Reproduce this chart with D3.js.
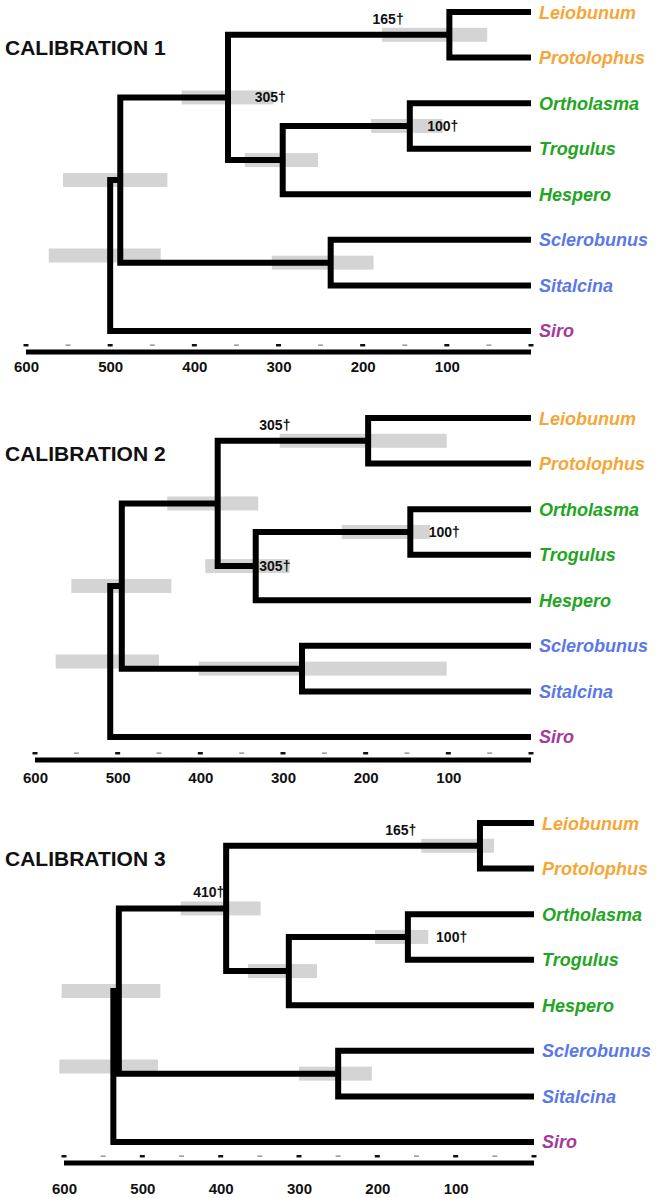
<!DOCTYPE html>
<html>
<head>
<meta charset="utf-8">
<script src="https://cdn.jsdelivr.net/npm/d3@7/dist/d3.min.js"></script>
<style>
  html, body { margin: 0; padding: 0; background: #fff; }
  svg { display: block; }
  text { font-family: "Liberation Sans", Arial, sans-serif; }
</style>
</head>
<body>
<svg id="chart" width="656" height="1198"></svg>
<script>
// ---------------- DATA ----------------
const tipNames  = ["Leiobunum", "Protolophus", "Ortholasma", "Trogulus", "Hespero", "Sclerobunus", "Sitalcina", "Siro"];
const tipGroups = ["orange", "orange", "green", "green", "green", "blue", "blue", "purple"];

const nodeIds      = ["LP", "OT", "C", "B", "SS", "A", "R"];
const nodeChildren = [
  ["Leiobunum", "Protolophus"],
  ["Ortholasma", "Trogulus"],
  ["OT", "Hespero"],
  ["LP", "C"],
  ["Sclerobunus", "Sitalcina"],
  ["B", "SS"],
  ["A", "Siro"]
];

const panelTitles = ["CALIBRATION 1", "CALIBRATION 2", "CALIBRATION 3"];

// node ages (Ma), in nodeIds order
const ages1 = [97, 144, 295, 360, 238, 488, 500];
const ages2 = [197, 146, 333, 379, 277, 495, 509];
const ages3 = [69, 161, 313, 393, 250, 530, 537];

// 95% HPD bars (Ma), in nodeIds order
const hpdLow1  = [52, 105, 253, 306, 187, 432, 440];
const hpdHigh1 = [177, 190, 340, 415, 308, 556, 573];
const hpdLow2  = [102, 122, 292, 330, 102, 435, 450];
const hpdHigh2 = [304, 229, 394, 440, 402, 556, 575];
const hpdLow3  = [51, 135, 277, 349, 207, 477, 480];
const hpdHigh3 = [144, 203, 365, 451, 300, 603, 606];

// fossil calibrations: node, label, value, placement
const calib1 = [["LP", "165†", 165, "above"], ["B", "305†", 305, "right"], ["OT", "100†", 100, "right"]];
const calib2 = [["LP", "305†", 305, "above"], ["C", "305†", 305, "right"], ["OT", "100†", 100, "right"]];
const calib3 = [["LP", "165†", 165, "above"], ["B", "410†", 410, "above"], ["OT", "100†", 100, "right"]];

const majorTicks = [600, 500, 400, 300, 200, 100, 0];
const minorTicks = [550, 450, 350, 250, 150, 50];
const tickLabels = ["600", "500", "400", "300", "200", "100"];

// ---------------- LAYOUT / STYLE ----------------
const groupColor = d3.scaleOrdinal()
  .domain(["orange", "green", "blue", "purple"])
  .range(["#f6a637", "#22a522", "#5b78e8", "#a5399d"]);

const panelData = [
  { title: panelTitles[0], ages: ages1, lo: hpdLow1, hi: hpdHigh1, calib: calib1 },
  { title: panelTitles[1], ages: ages2, lo: hpdLow2, hi: hpdHigh2, calib: calib2 },
  { title: panelTitles[2], ages: ages3, lo: hpdLow3, hi: hpdHigh3, calib: calib3 }
];
const panelLayout = [
  { top: 12,  x600: 26, x0: 531, axisGap: 21, labelGap: 20 },
  { top: 418, x600: 35, x0: 531, axisGap: 23, labelGap: 23 },
  { top: 823, x600: 64, x0: 534, axisGap: 21, labelGap: 31 }
];
const tipStep = 45.57;

const svg = d3.select("#chart");

panelData.forEach((pd, pi) => {
  const L = panelLayout[pi];
  const g = svg.append("g");

  const x = d3.scaleLinear().domain([600, 0]).range([L.x600, L.x0]);
  const yTip = d3.scalePoint().domain(tipNames).range([L.top, L.top + tipStep * (tipNames.length - 1)]);

  // compute node positions
  const pos = {};
  tipNames.forEach(n => { pos[n] = { x: x(0), y: yTip(n), age: 0 }; });
  nodeIds.forEach((id, i) => {
    const [c1, c2] = nodeChildren[i];
    pos[id] = { x: x(pd.ages[i]), y: (pos[c1].y + pos[c2].y) / 2, age: pd.ages[i] };
  });

  // title
  g.append("text")
    .attr("x", 5).attr("y", L.top + 43)
    .attr("font-size", 21).attr("font-weight", "bold")
    .attr("fill", "#111")
    .text(pd.title);

  // HPD bars
  g.selectAll("rect.hpd").data(nodeIds).join("rect")
    .attr("class", "hpd")
    .attr("x", (d, i) => x(pd.hi[i]))
    .attr("width", (d, i) => x(pd.lo[i]) - x(pd.hi[i]))
    .attr("y", d => pos[d].y - 7)
    .attr("height", 14)
    .attr("fill", "#d4d4d4");

  // branches (elbow per internal node)
  g.selectAll("path.branch").data(nodeIds).join("path")
    .attr("class", "branch")
    .attr("d", (d, i) => {
      const [c1, c2] = nodeChildren[i];
      const p = d3.path();
      p.moveTo(pos[c1].x, pos[c1].y);
      p.lineTo(pos[d].x, pos[c1].y);
      p.lineTo(pos[d].x, pos[c2].y);
      p.lineTo(pos[c2].x, pos[c2].y);
      return p.toString();
    })
    .attr("fill", "none")
    .attr("stroke", "#000")
    .attr("stroke-width", 6)
    .attr("stroke-linejoin", "miter")
    .attr("stroke-linecap", "butt");

  // tip labels
  g.selectAll("text.tip").data(tipNames).join("text")
    .attr("class", "tip")
    .attr("x", x(0) + 8)
    .attr("y", d => yTip(d) + 6.5)
    .attr("font-size", 18)
    .attr("font-weight", "bold")
    .attr("font-style", "italic")
    .attr("fill", (d, i) => groupColor(tipGroups[i]))
    .text(d => d);

  // calibration labels
  g.selectAll("text.cal").data(pd.calib).join("text")
    .attr("class", "cal")
    .attr("x", d => x(d[2]) - 4)
    .attr("y", d => d[3] === "above" ? pos[d[0]].y - 16 + 5 : pos[d[0]].y + 5)
    .attr("text-anchor", "middle")
    .attr("font-size", 14)
    .attr("font-weight", "bold")
    .attr("fill", "#111")
    .text(d => d[1]);

  // axis
  const axisY = L.top + tipStep * (tipNames.length - 1) + L.axisGap;
  g.append("line")
    .attr("x1", x(600)).attr("x2", x(0))
    .attr("y1", axisY).attr("y2", axisY)
    .attr("stroke", "#000").attr("stroke-width", 5);

  g.selectAll("rect.major").data(majorTicks).join("rect")
    .attr("class", "major")
    .attr("x", d => x(d) - 2.5).attr("width", 5)
    .attr("y", axisY - 8).attr("height", 2.5)
    .attr("fill", "#111");
  g.selectAll("rect.minor").data(minorTicks).join("rect")
    .attr("class", "minor")
    .attr("x", d => x(d) - 2.5).attr("width", 5)
    .attr("y", axisY - 7.5).attr("height", 1.3)
    .attr("fill", "#888");

  const axis = d3.axisBottom(x)
    .tickValues(tickLabels.map(Number))
    .tickFormat((d, i) => tickLabels[i])
    .tickSize(0)
    .tickPadding(0);
  const ag = g.append("g")
    .attr("transform", `translate(0,${axisY + L.labelGap - 11})`)
    .call(axis);
  ag.select(".domain").remove();
  ag.selectAll("text")
    .attr("font-family", "Liberation Sans, Arial, sans-serif")
    .attr("font-size", 15)
    .attr("font-weight", "bold")
    .attr("fill", "#111");
});
</script>
</body>
</html>
